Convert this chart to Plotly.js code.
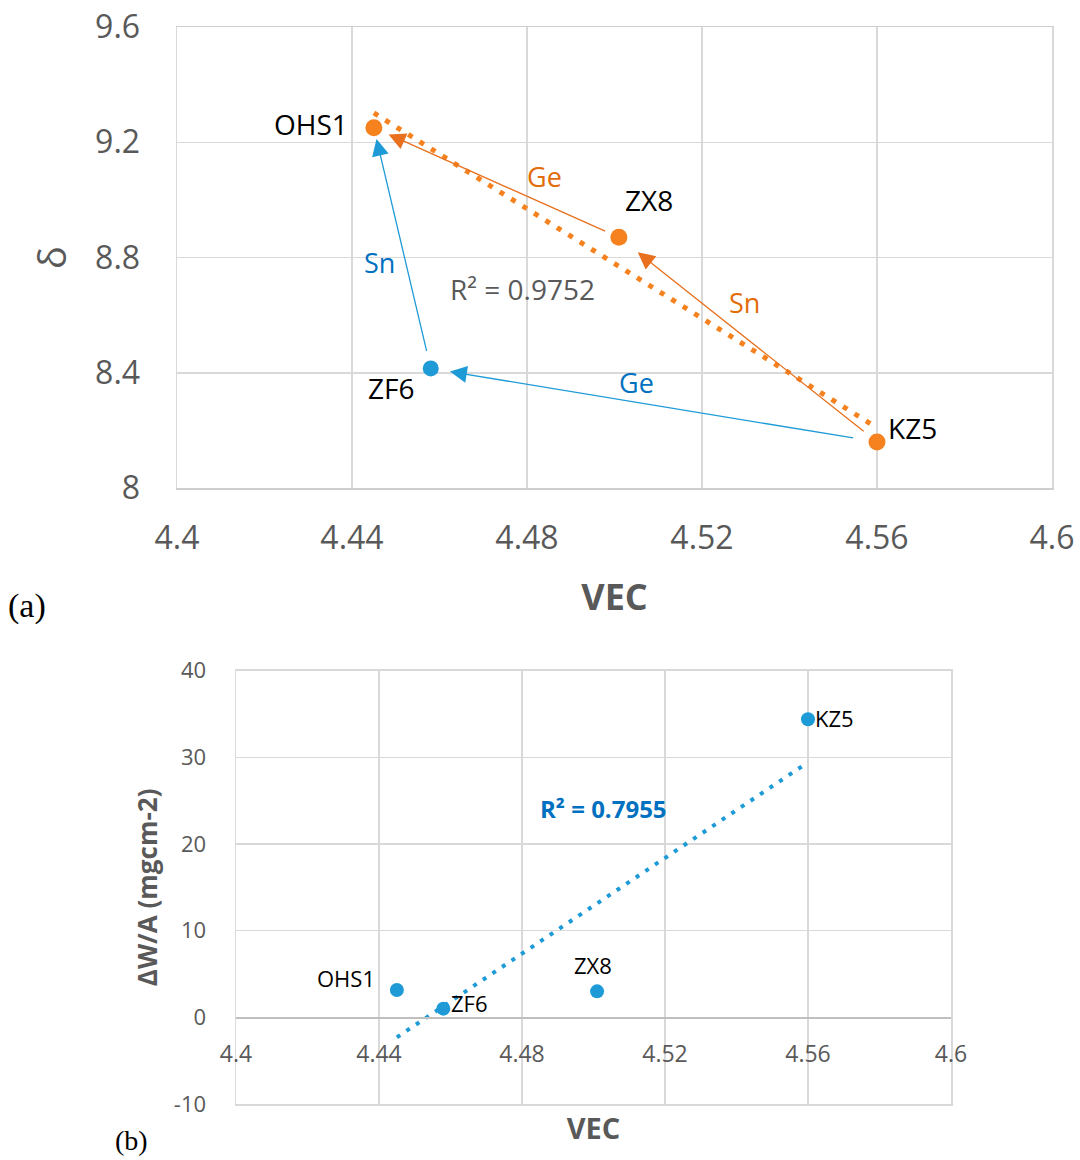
<!DOCTYPE html>
<html>
<head>
<meta charset="utf-8">
<script src="https://cdn.plot.ly/plotly-3.0.1.min.js"></script>
<style>html,body{margin:0;padding:0;background:#fff;}#chart{width:1080px;height:1160px;}</style>
</head>
<body>
<div id="chart"></div>
<script>
// ---------- data ----------
const samples = ['OHS1', 'ZF6', 'ZX8', 'KZ5'];
const vec     = [4.445, 4.458, 4.501, 4.56];
const delta   = [9.25, 8.415, 8.87, 8.16];
const dwa     = [3.15, 1.0, 3.0, 34.4];
const topOrange = ['OHS1', 'ZX8', 'KZ5'];   // orange series in panel (a)
const topBlue   = ['ZF6'];                  // blue series in panel (a)
const xTicks = [4.4, 4.44, 4.48, 4.52, 4.56, 4.6];
const xTickText = ['4.4', '4.44', '4.48', '4.52', '4.56', '4.6'];
const yTicksTop = [8, 8.4, 8.8, 9.2, 9.6];
const yTickTextTop = ['8', '8.4', '8.8', '9.2', '9.6'];
const yTicksBot = [-10, 0, 10, 20, 30, 40];
const yTickTextBot = ['-10', '0', '10', '20', '30', '40'];
// arrows: [from, to, label]
const arrowsOrange = [['ZX8', 'OHS1', 'Ge'], ['KZ5', 'ZX8', 'Sn']];
const arrowsBlue   = [['ZF6', 'OHS1', 'Sn'], ['KZ5', 'ZF6', 'Ge']];
const r2Top = 'R² = 0.9752';
const r2Bot = 'R² = 0.7955';

// ---------- helpers ----------
const idx = n => samples.indexOf(n);
function pick(arr, names) { return names.map(n => arr[idx(n)]); }
function linfit(xs, ys) {
  const n = xs.length, mx = xs.reduce((a,b)=>a+b,0)/n, my = ys.reduce((a,b)=>a+b,0)/n;
  let sxy = 0, sxx = 0;
  for (let i = 0; i < n; i++) { sxy += (xs[i]-mx)*(ys[i]-my); sxx += (xs[i]-mx)**2; }
  const b = sxy / sxx, a = my - b*mx;
  const x0 = Math.min(...xs), x1 = Math.max(...xs);
  return {x: [x0, x1], y: [a + b*x0, a + b*x1]};
}

const ORANGE = '#F5821F', ORANGE_ARR = '#E8701E', ORANGE_TXT = '#E36C0A';
const BLUE = '#1E9BD7', BLUE_TXT = '#0070C0';
const GRID = '#D9D9D9', TICK = '#595959';
const FONT = 'Open Sans, sans-serif';

// ---------- traces ----------
const oX = pick(vec, topOrange), oY = pick(delta, topOrange);
const fitTop = linfit(oX, oY);
const fitBot = linfit(vec, dwa);

const traces = [
  {x: fitTop.x, y: fitTop.y, xaxis: 'x', yaxis: 'y', mode: 'lines', hoverinfo: 'skip',
   line: {color: ORANGE, width: 5, dash: '5px,8.5px'}},
  {x: oX, y: oY, xaxis: 'x', yaxis: 'y', mode: 'markers', marker: {color: ORANGE, size: 17}},
  {x: pick(vec, topBlue), y: pick(delta, topBlue), xaxis: 'x', yaxis: 'y', mode: 'markers', marker: {color: BLUE, size: 16}},
  {x: fitBot.x, y: fitBot.y, xaxis: 'x2', yaxis: 'y2', mode: 'lines', hoverinfo: 'skip',
   line: {color: BLUE, width: 4, dash: '4px,7.5px'}},
  {x: vec, y: dwa, xaxis: 'x3', yaxis: 'y2', mode: 'markers', marker: {color: BLUE, size: 14}}
];

// ---------- annotations ----------
const ann = [];
function arrow(from, to, color, f0, f1) {
  const a = idx(from), b = idx(to);
  const xa = vec[a] + f0*(vec[b]-vec[a]), ya = delta[a] + f0*(delta[b]-delta[a]);
  const xb = vec[a] + f1*(vec[b]-vec[a]), yb = delta[a] + f1*(delta[b]-delta[a]);
  ann.push({xref: 'x', yref: 'y', axref: 'x', ayref: 'y', x: xb, y: yb, ax: xa, ay: ya, text: '',
    showarrow: true, arrowhead: 2, arrowsize: 2.6, arrowwidth: 1.3, arrowcolor: color, standoff: 0});
}
arrow(arrowsOrange[0][0], arrowsOrange[0][1], ORANGE_ARR, 0.05, 0.94);
arrow(arrowsOrange[1][0], arrowsOrange[1][1], ORANGE_ARR, 0.046, 0.927);
arrow(arrowsBlue[0][0], arrowsBlue[0][1], BLUE, 0.067, 0.954);
arrow(arrowsBlue[1][0], arrowsBlue[1][1], BLUE, 0.05, 0.957);

// arrow labels (panel a)
const arrowLabelPos = [[4.4841, 9.082], [4.5296, 8.643], [4.4462, 8.783], [4.5051, 8.365]];
[[arrowsOrange[0][2], ORANGE_TXT], [arrowsOrange[1][2], ORANGE_TXT], [arrowsBlue[0][2], BLUE_TXT], [arrowsBlue[1][2], BLUE_TXT]]
  .forEach((l, i) => ann.push({xref: 'x', yref: 'y', x: arrowLabelPos[i][0], y: arrowLabelPos[i][1], text: l[0],
    showarrow: false, font: {family: FONT, size: 27, color: l[1]}}));

// point labels panel a
const labA = {OHS1: ['right', -24, 4], ZF6: ['right', -15, -20], ZX8: ['left', 4, 37], KZ5: ['left', 9, 14]};
samples.forEach((s, i) => ann.push({xref: 'x', yref: 'y', x: vec[i], y: delta[i], text: s, showarrow: false,
  xanchor: labA[s][0], xshift: labA[s][1], yshift: labA[s][2], font: {family: FONT, size: 28, color: '#000'}}));
ann.push({xref: 'x', yref: 'y', x: 4.4789, y: 8.692, text: r2Top, showarrow: false,
  font: {family: FONT, size: 28, color: TICK}});

// point labels panel b
const labB = {OHS1: ['right', -20, 12], ZF6: ['left', 6, 6], ZX8: ['center', -4, 26], KZ5: ['left', 5, 1]};
samples.forEach((s, i) => ann.push({xref: 'x3', yref: 'y2', x: vec[i], y: dwa[i], text: s, showarrow: false,
  xanchor: labB[s][0], xshift: labB[s][1], yshift: labB[s][2], font: {family: FONT, size: 22, color: '#000'}}));
ann.push({xref: 'x2', yref: 'y2', x: 4.5027, y: 24.1, text: '<b>' + r2Bot + '</b>', showarrow: false,
  font: {family: FONT, size: 24, color: BLUE_TXT}});

// panel labels
ann.push({xref: 'paper', yref: 'paper', x: 0.006, y: 1 - 606/1160, xanchor: 'left', yanchor: 'middle', text: '(a)',
  showarrow: false, font: {family: 'Liberation Serif, serif', size: 34, color: '#000'}});
ann.push({xref: 'paper', yref: 'paper', x: 0.105, y: 0.002, xanchor: 'left', yanchor: 'bottom', text: '(b)',
  showarrow: false, font: {family: 'Liberation Serif, serif', size: 28, color: '#000'}});

// ---------- layout ----------
const botDom = [1 - 1104/1160, 1 - 670.7/1160];
const zeroPos = botDom[0] + (0 - (-10)) / 50 * (botDom[1] - botDom[0]);

const layout = {
  width: 1080, height: 1160, margin: {l: 0, r: 0, t: 0, b: 0},
  paper_bgcolor: '#fff', plot_bgcolor: '#fff', showlegend: false,
  font: {family: FONT, color: TICK},
  xaxis: {domain: [177/1080, 1052/1080], anchor: 'y', range: [4.4, 4.6], tickvals: xTicks, ticktext: xTickText,
    showgrid: true, gridcolor: GRID, gridwidth: 1.5, zeroline: false, showline: true, mirror: true, linecolor: '#CFCFCF', linewidth: 1.5,
    ticks: '', ticklabelstandoff: 21, tickfont: {family: FONT, size: 32, color: TICK},
    title: {text: '<b>VEC</b>', font: {family: FONT, size: 36, color: TICK}, standoff: 28}},
  yaxis: {domain: [1 - 488/1160, 1 - 27/1160], anchor: 'x', range: [8, 9.6], tickvals: yTicksTop, ticktext: yTickTextTop,
    showgrid: true, gridcolor: GRID, gridwidth: 1.5, zeroline: false, showline: true, mirror: true, linecolor: GRID, linewidth: 1.5,
    ticks: '', ticklabelstandoff: 29, tickfont: {family: FONT, size: 32, color: TICK},
    title: {text: 'δ', font: {family: FONT, size: 38, color: TICK}, standoff: 17}},
  xaxis2: {domain: [236/1080, 951/1080], anchor: 'y2', range: [4.4, 4.6], tickvals: xTicks,
    showgrid: true, gridcolor: GRID, gridwidth: 1.5, zeroline: false, showline: true, mirror: true, linecolor: GRID, linewidth: 1.5,
    ticks: '', showticklabels: false,
    title: {text: '<b>VEC</b>', font: {family: FONT, size: 29, color: TICK}, standoff: 14}},
  xaxis3: {overlaying: 'x2', anchor: 'free', position: zeroPos, range: [4.4, 4.6], tickvals: xTicks, ticktext: xTickText,
    showgrid: false, zeroline: false, showline: true, linecolor: '#BFBFBF', linewidth: 1.5,
    ticks: '', ticklabelstandoff: 16, tickfont: {family: FONT, size: 23, color: TICK}},
  yaxis2: {domain: botDom, anchor: 'x2', range: [-10, 40], tickvals: yTicksBot, ticktext: yTickTextBot,
    showgrid: true, gridcolor: GRID, gridwidth: 1.5, zeroline: false, showline: true, mirror: true, linecolor: GRID, linewidth: 1.5,
    ticks: '', ticklabelstandoff: 24, tickfont: {family: FONT, size: 22, color: TICK},
    title: {text: '<b>ΔW/A (mgcm-2)</b>', font: {family: FONT, size: 26, color: TICK}, standoff: 8}},
  annotations: ann
};

Plotly.newPlot('chart', traces, layout, {staticPlot: true});
</script>
</body>
</html>
